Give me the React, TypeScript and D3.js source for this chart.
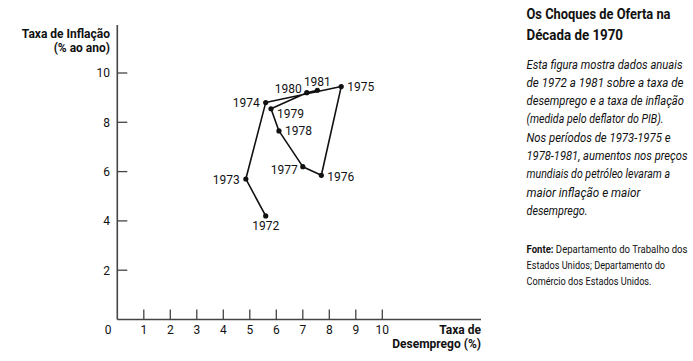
import React from "react";
import * as d3 from "d3";

const years = [1972, 1973, 1974, 1975, 1976, 1977, 1978, 1979, 1980, 1981];
const unemployment = [5.6, 4.85, 5.6, 8.45, 7.7, 7.0, 6.1, 5.8, 7.15, 7.55];
const inflation = [4.2, 5.7, 8.8, 9.45, 5.85, 6.2, 7.65, 8.55, 9.2, 9.3];
const xTicks = [1, 2, 3, 4, 5, 6, 7, 8, 9, 10];
const yTicks = [2, 4, 6, 8, 10];

// label placement: [dx, dy, anchor]
const labelPos: [number, number, string][] = [
  [0, 14, "middle"],
  [-6, 5, "end"],
  [-6, 4, "end"],
  [6, 4, "start"],
  [6, 6, "start"],
  [-5, 7, "end"],
  [6, 4, "start"],
  [6, 9, "start"],
  [-5, 0, "end"],
  [0, -4, "middle"],
];

const titleLines = ["Os Choques de Oferta na", "Década de 1970"];
const titleWidths = [144, 96.5];
const bodyLines = [
  "Esta figura mostra dados anuais",
  "de 1972 a 1981 sobre a taxa de",
  "desemprego e a taxa de inflação",
  "(medida pelo deflator do PIB).",
  "Nos períodos de 1973-1975 e",
  "1978-1981, aumentos nos preços",
  "mundiais do petróleo levaram a",
  "maior inflação e maior",
  "desemprego.",
];
const bodyWidths = [156, 157, 157.5, 137, 144, 161, 143.5, 114, 61];
const sourceLines = [
  "Departamento do Trabalho dos",
  "Estados Unidos; Departamento do",
  "Comércio dos Estados Unidos.",
];
const sourceWidths = [161, 138.5, 125];

const chartFont = "Roboto, 'Liberation Sans', sans-serif";
const sideFont = "Roboto, 'DejaVu Sans Condensed', sans-serif";

export default function App() {
  const x = d3.scaleLinear().domain([0, 10]).range([117.3, 382.3]);
  const y = d3.scaleLinear().domain([0, 10]).range([319.5, 73]);
  const pts = years.map((yr, i) => ({ yr, ux: unemployment[i], inf: inflation[i] }));
  const line = d3
    .line<{ ux: number; inf: number }>()
    .x((d) => x(d.ux))
    .y((d) => y(d.inf));
  const axisColor = "#444";
  const left = 526.5;

  return (
    <svg
      width={693}
      height={361}
      style={{ position: "absolute", left: 0, top: 0, background: "#fff" }}
      fontFamily={chartFont}
    >
      {/* axes */}
      <line x1={x(0)} x2={x(0)} y1={25} y2={y(0)} stroke={axisColor} strokeWidth={1.6} />
      <line x1={x(0)} x2={481} y1={y(0)} y2={y(0)} stroke={axisColor} strokeWidth={1.6} />
      {yTicks.map((t) => (
        <g key={"y" + t}>
          <line x1={x(0)} x2={x(0) + 10} y1={y(t)} y2={y(t)} stroke={axisColor} strokeWidth={1.3} />
          <text x={110} y={y(t) + 4.3} textAnchor="end" fontSize={12} fill="#111">
            {t}
          </text>
        </g>
      ))}
      {xTicks.map((t) => (
        <g key={"x" + t}>
          <line x1={x(t)} x2={x(t)} y1={y(0)} y2={y(0) - 10} stroke={axisColor} strokeWidth={1.3} />
          <text x={x(t)} y={333.5} textAnchor="middle" fontSize={12} fill="#111">
            {t}
          </text>
        </g>
      ))}
      <text x={108} y={333.5} textAnchor="middle" fontSize={12} fill="#111">0</text>

      {/* axis titles */}
      <text x={110} y={37.5} textAnchor="end" fontSize={12} fontWeight="bold" fill="#111">
        Taxa de Inflação
      </text>
      <text x={110} y={52} textAnchor="end" fontSize={12} fontWeight="bold" fill="#111">
        (% ao ano)
      </text>
      <text x={481} y={333.5} textAnchor="end" fontSize={12} fontWeight="bold" fill="#111">
        Taxa de
      </text>
      <text x={481} y={347.5} textAnchor="end" fontSize={12} fontWeight="bold" fill="#111">
        Desemprego (%)
      </text>

      {/* data */}
      <path d={line(pts) ?? ""} fill="none" stroke="#111" strokeWidth={1.6} strokeLinejoin="round" />
      {pts.map((d, i) => (
        <g key={d.yr}>
          <circle cx={x(d.ux)} cy={y(d.inf)} r={2.6} fill="#111" />
          <text
            x={x(d.ux) + labelPos[i][0]}
            y={y(d.inf) + labelPos[i][1]}
            textAnchor={labelPos[i][2] as any}
            fontSize={12}
            fill="#111"
          >
            {d.yr}
          </text>
        </g>
      ))}

      {/* side panel */}
      <g fontFamily={sideFont} fill="#111">
        {titleLines.map((s, i) => (
          <text
            key={"t" + i}
            x={left}
            y={19 + i * 20.5}
            fontSize={15}
            fontWeight="bold"
            textLength={titleWidths[i]}
            lengthAdjust="spacingAndGlyphs"
          >
            {s}
          </text>
        ))}
        {bodyLines.map((s, i) => (
          <text
            key={i}
            x={left}
            y={68.5 + i * 18.3}
            fontSize={13}
            fontStyle="italic"
            textLength={bodyWidths[i]}
            lengthAdjust="spacingAndGlyphs"
          >
            {s}
          </text>
        ))}
        {sourceLines.map((s, i) => (
          <text
            key={"s" + i}
            x={left}
            y={253 + i * 16}
            fontSize={11.5}
            textLength={sourceWidths[i]}
            lengthAdjust="spacingAndGlyphs"
          >
            {i === 0 ? <tspan fontWeight="bold">Fonte: </tspan> : null}
            {s}
          </text>
        ))}
      </g>
    </svg>
  );
}
